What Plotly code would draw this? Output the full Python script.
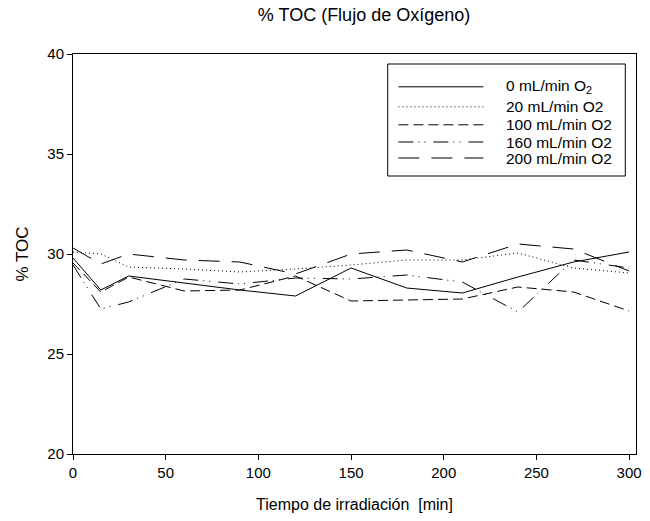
import plotly.graph_objects as go

# ---- data ----
time_min = [0, 15, 30, 60, 90, 120, 150, 180, 210, 240, 270, 300]
series_names = ["0 mL/min O<sub>2</sub>", "20 mL/min O2", "100 mL/min O2",
                "160 mL/min O2", "200 mL/min O2"]
toc_0 = [29.8, 28.2, 28.9, 28.55, 28.2, 27.9, 29.3, 28.3, 28.05, 28.85, 29.6, 30.1]
toc_20 = [30.1, 30.0, 29.35, 29.25, 29.1, 29.25, 29.45, 29.7, 29.7, 30.05, 29.3, 29.05]
toc_100 = [29.55, 28.1, 28.85, 28.15, 28.2, 28.9, 27.65, 27.7, 27.75, 28.35, 28.1, 27.15]
toc_160 = [29.45, 27.25, 27.6, 28.75, 28.5, 28.8, 28.75, 28.95, 28.6, 27.1, 29.7, 29.3]
toc_200 = [30.3, 29.5, 30.0, 29.7, 29.6, 29.0, 30.0, 30.2, 29.6, 30.5, 30.25, 29.15]
x_ticks = [0, 50, 100, 150, 200, 250, 300]
y_ticks = [20, 25, 30, 35, 40]

all_series = [toc_0, toc_20, toc_100, toc_160, toc_200]
dashes = ["solid", "1px,3px", "10px,5px", "15px,5px,1px,5px,1px,8px", "21px,12px"]

FONT = "Liberation Sans, Arial, sans-serif"

fig = go.Figure()
for name, ys, d in zip(series_names, all_series, dashes):
    fig.add_trace(go.Scatter(x=time_min, y=ys, mode="lines", name=name,
                             line=dict(color="black", width=1, dash=d),
                             showlegend=False))

# manual legend (box + sample lines + labels)
lx0, lx1 = 0.559, 0.981
ly0, ly1 = 0.695, 0.975
fig.add_shape(type="rect", xref="paper", yref="paper", x0=lx0, x1=lx1, y0=ly0, y1=ly1,
              line=dict(color="black", width=1), fillcolor="white", layer="above")
row_y = [0.918, 0.868, 0.823, 0.780, 0.740]
for name, d, yy in zip(series_names, dashes, row_y):
    fig.add_shape(type="line", xref="paper", yref="paper", x0=0.578, x1=0.729, y0=yy, y1=yy,
                  line=dict(color="black", width=1, dash=d), layer="above")
    fig.add_annotation(xref="paper", yref="paper", x=0.766, y=yy, text=name,
                       showarrow=False, xanchor="left", yanchor="middle",
                       font=dict(family=FONT, size=15.5, color="black"))

fig.update_layout(
    width=650, height=521,
    margin=dict(l=73, r=8, t=54, b=67),
    paper_bgcolor="white", plot_bgcolor="white",
    font=dict(family=FONT, size=15, color="black"),
    title=dict(text="% TOC (Flujo de Oxígeno)", x=0.56, xanchor="center",
               y=0.971, yanchor="middle", font=dict(family=FONT, size=18)),
)
fig.update_xaxes(range=[0, 303.7], tickvals=x_ticks, ticks="outside", ticklen=5,
                 tickcolor="black", showline=True, linecolor="black", linewidth=1,
                 mirror=True, showgrid=False, zeroline=False,
                 title=dict(text="Tiempo de irradiación  [min]", standoff=18,
                            font=dict(family=FONT, size=16)))
fig.update_yaxes(range=[20, 40], tickvals=y_ticks, ticks="outside", ticklen=5,
                 tickcolor="black", showline=True, linecolor="black", linewidth=1,
                 mirror=True, showgrid=False, zeroline=False,
                 title=dict(text="% TOC", standoff=14, font=dict(family=FONT, size=17)))

fig.write_html("out.html")
